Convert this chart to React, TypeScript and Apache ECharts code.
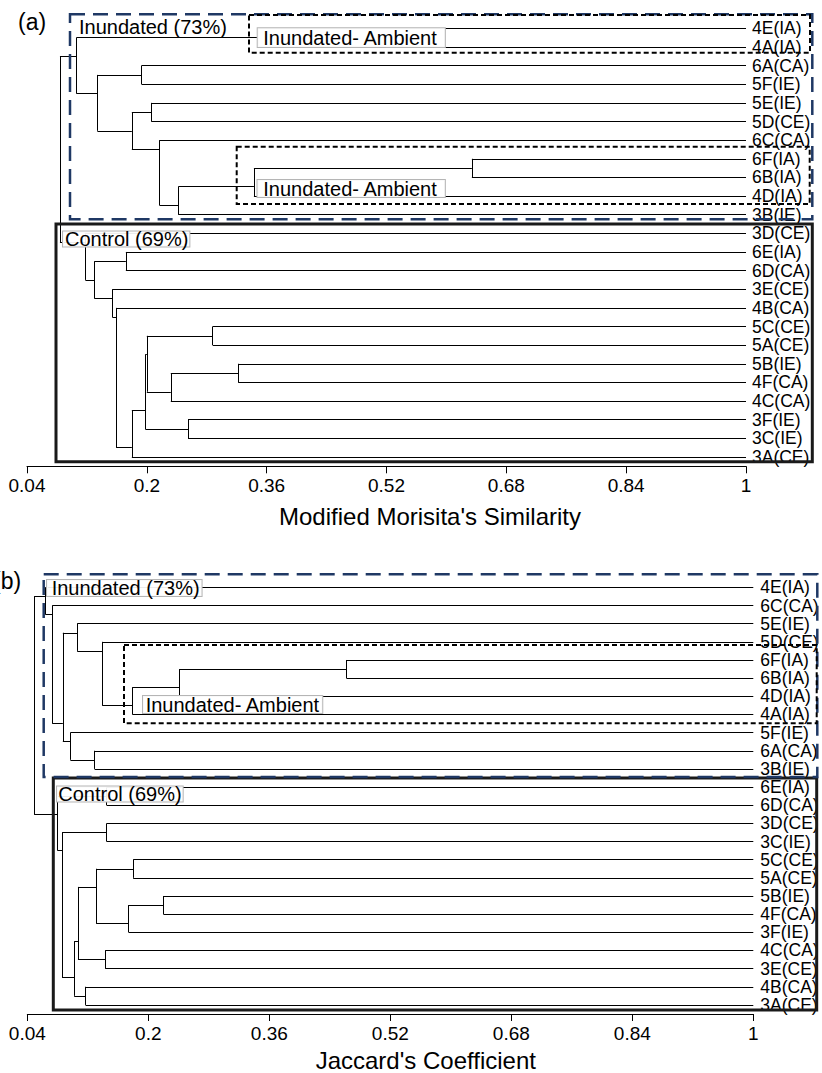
import React, { useEffect, useRef } from 'react';
import * as echarts from 'echarts';

// ---------- data ----------
const leavesA = ['4E(IA)', '4A(IA)', '6A(CA)', '5F(IE)', '5E(IE)', '5D(CE)', '6C(CA)', '6F(IA)', '6B(IA)', '4D(IA)', '3B(IE)', '3D(CE)', '6E(IA)', '6D(CA)', '3E(CE)', '4B(CA)', '5C(CE)', '5A(CE)', '5B(IE)', '4F(CA)', '4C(CA)', '3F(IE)', '3C(IE)', '3A(CE)'];

// [node id, upper child, lower child, similarity at which they join]
const mergesA: [string, string, string, number][] = [
  ['a1', '4E(IA)', '4A(IA)', 0.348],
  ['a2', '6F(IA)', '6B(IA)', 0.634],
  ['a3', 'a2', '4D(IA)', 0.343],
  ['a4', 'a3', '3B(IE)', 0.242],
  ['a5', '6C(CA)', 'a4', 0.217],
  ['a6', '5E(IE)', '5D(CE)', 0.206],
  ['a7', 'a6', 'a5', 0.18],
  ['a8', '6A(CA)', '5F(IE)', 0.193],
  ['a9', 'a8', 'a7', 0.134],
  ['a10', 'a1', 'a9', 0.106],
  ['c1', '6E(IA)', '6D(CA)', 0.172],
  ['c2', '5C(CE)', '5A(CE)', 0.288],
  ['c3', '5B(IE)', '4F(CA)', 0.322],
  ['c4', 'c3', '4C(CA)', 0.232],
  ['c5', 'c2', 'c4', 0.2],
  ['c6', '3F(IE)', '3C(IE)', 0.255],
  ['c7', 'c5', 'c6', 0.198],
  ['c8', 'c7', '3A(CE)', 0.18],
  ['c9', '4B(CA)', 'c8', 0.159],
  ['c10', '3E(CE)', 'c9', 0.154],
  ['c11', 'c1', 'c10', 0.13],
  ['c12', '3D(CE)', 'c11', 0.118],
  ['rootA', 'a10', 'c12', 0.084],
];

const leavesB = ['4E(IA)', '6C(CA)', '5E(IE)', '5D(CE)', '6F(IA)', '6B(IA)', '4D(IA)', '4A(IA)', '5F(IE)', '6A(CA)', '3B(IE)', '6E(IA)', '6D(CA)', '3D(CE)', '3C(IE)', '5C(CE)', '5A(CE)', '5B(IE)', '4F(CA)', '3F(IE)', '4C(CA)', '3E(CE)', '4B(CA)', '3A(CE)'];

const mergesB: [string, string, string, number][] = [
  ['b1', '6F(IA)', '6B(IA)', 0.462],
  ['b2', 'b1', '4D(IA)', 0.241],
  ['b3', 'b2', '4A(IA)', 0.179],
  ['b4', '5D(CE)', 'b3', 0.139],
  ['b5', '5E(IE)', 'b4', 0.106],
  ['b6', '6A(CA)', '3B(IE)', 0.129],
  ['b7', '5F(IE)', 'b6', 0.097],
  ['b8', 'b5', 'b7', 0.087],
  ['b9', '6C(CA)', 'b8', 0.073],
  ['b10', '4E(IA)', 'b9', 0.064],
  ['d1', '6E(IA)', '6D(CA)', 0.145],
  ['d2', '3D(CE)', '3C(IE)', 0.145],
  ['d3', '5C(CE)', '5A(CE)', 0.18],
  ['d4', '5B(IE)', '4F(CA)', 0.22],
  ['d5', 'd4', '3F(IE)', 0.174],
  ['d6', 'd3', 'd5', 0.131],
  ['d7', '4C(CA)', '3E(CE)', 0.143],
  ['d8', 'd6', 'd7', 0.107],
  ['d9', '4B(CA)', '3A(CE)', 0.117],
  ['d10', 'd8', 'd9', 0.102],
  ['d11', 'd2', 'd10', 0.086],
  ['d12', 'd1', 'd11', 0.08],
  ['rootB', 'b10', 'd12', 0.049],
];

const tickValues = [0.04, 0.2, 0.36, 0.52, 0.68, 0.84, 1];
const tickLabels = ['0.04', '0.2', '0.36', '0.52', '0.68', '0.84', '1'];
const axisTitleA = "Modified Morisita's Similarity";
const axisTitleB = "Jaccard's Coefficient";

// ---------- helpers ----------
const FONT = "'Liberation Sans', Arial, Helvetica, sans-serif";

function buildSegments(leaves: string[], merges: [string, string, string, number][]) {
  const info: Record<string, { x: number; y: number; last: number }> = {};
  leaves.forEach((name, i) => {
    info[name] = { x: 1, y: i, last: i };
  });
  const segs: number[][][] = [];
  for (const [id, a, b, sim] of merges) {
    const A = info[a];
    const B = info[b];
    segs.push([[sim, A.y], [sim, B.y]]);
    segs.push([[sim, A.y], [A.x, A.y]]);
    segs.push([[sim, B.y], [B.x, B.y]]);
    info[id] = { x: sim, y: A.last + 0.5, last: B.last };
  }
  return segs;
}

function xAxisFor(gridIndex: number, name: string, shift: number, gap: number) {
  return {
    type: 'value',
    gridIndex,
    min: 0.04,
    max: 1,
    position: 'bottom',
    splitLine: { show: false },
    axisLine: { show: true, onZero: false, lineStyle: { color: '#000', width: 1 } },
    axisTick: { show: true, length: 7, customValues: tickValues, lineStyle: { color: '#000', width: 1 } },
    axisLabel: {
      customValues: tickValues,
      formatter: (v: number) => {
        const i = tickValues.findIndex((t) => Math.abs(t - v) < 1e-9);
        return i >= 0 ? tickLabels[i] : '';
      },
      color: '#000',
      fontSize: 19,
      fontFamily: FONT,
      margin: 10,
    },
    name,
    nameLocation: 'middle',
    nameGap: gap,
    nameTextStyle: { color: '#000', fontSize: 24, fontFamily: FONT, padding: [0, 0, 0, shift] },
  };
}

function yAxisFor(gridIndex: number, leaves: string[], margin: number) {
  return {
    type: 'value',
    gridIndex,
    min: -0.5,
    max: 23.5,
    inverse: true,
    position: 'right',
    splitLine: { show: false },
    axisLine: { show: false, onZero: false },
    axisTick: { show: false },
    axisLabel: {
      customValues: leaves.map((_, i) => i),
      formatter: (v: number) => leaves[Math.round(v)] ?? '',
      color: '#000',
      fontSize: 17.5,
      fontFamily: FONT,
      margin,
    },
  };
}

function textEl(text: string, x: number, y: number, size: number, boxed?: { pad: number[]; lh: number }) {
  const style: any = {
    text,
    x,
    y,
    fill: '#000',
    fontSize: size,
    fontFamily: FONT,
    align: 'left',
    verticalAlign: 'middle',
  };
  if (boxed) {
    style.backgroundColor = 'rgba(255,255,255,0.92)';
    style.borderColor = '#b5b5b5';
    style.borderWidth = 1;
    style.padding = boxed.pad;
    style.lineHeight = boxed.lh;
  }
  return { type: 'text', z: 100, style };
}

function rectEl(x: number, y: number, w: number, h: number, stroke: string, lineWidth: number, dash: number[] | null, z: number) {
  return {
    type: 'rect',
    z,
    shape: { x, y, width: w, height: h },
    style: { fill: 'none', stroke, lineWidth, lineDash: dash || undefined },
  };
}

const NAVY = '#1f3864';

export default function App() {
  const ref = useRef<HTMLDivElement>(null);

  useEffect(() => {
    document.body.style.margin = '0';
    if (!ref.current) return;
    const chart = echarts.init(ref.current, null, { renderer: 'svg' });
    const segA = buildSegments(leavesA, mergesA);
    const segB = buildSegments(leavesB, mergesB);

    const option: any = {
      animation: false,
      backgroundColor: '#fff',
      grid: [
        { left: 27, right: 76, top: 19, height: 447.3, containLabel: false },
        { left: 27.3, right: 68.7, top: 578.3, height: 436.6, containLabel: false },
      ],
      xAxis: [xAxisFor(0, axisTitleA, 87, 38), xAxisFor(1, axisTitleB, 71, 34)],
      yAxis: [yAxisFor(0, leavesA, 6), yAxisFor(1, leavesB, 7)],
      series: [
        {
          type: 'lines',
          coordinateSystem: 'cartesian2d',
          xAxisIndex: 0,
          yAxisIndex: 0,
          silent: true,
          polyline: false,
          lineStyle: { color: '#000', width: 1, opacity: 1 },
          data: segA.map((c) => ({ coords: c })),
        },
        {
          type: 'lines',
          coordinateSystem: 'cartesian2d',
          xAxisIndex: 1,
          yAxisIndex: 1,
          silent: true,
          polyline: false,
          lineStyle: { color: '#000', width: 1, opacity: 1 },
          data: segB.map((c) => ({ coords: c })),
        },
      ],
      graphic: [
        // panel (a)
        rectEl(56, 224, 756.3, 237.7, '#1a1a1a', 3, null, 90),
        rectEl(70, 14.3, 742.3, 205, NAVY, 2.5, [15, 8], 91),
        rectEl(249, 15, 561, 37.7, '#000', 2, [5, 3], 92),
        rectEl(236.7, 146.7, 573, 57.3, '#000', 2, [5, 3], 92),
        textEl('(a)', 18, 22, 23),
        textEl('Inundated (73%)', 79, 26.7, 20),
        textEl('Inundated- Ambient', 257.7, 37.6, 20, { pad: [0, 7, 0, 5.6], lh: 18.6 }),
        textEl('Inundated- Ambient', 257.5, 188.5, 20, { pad: [0, 7, 0, 5.8], lh: 17 }),
        textEl('Control (69%)', 63, 239, 20, { pad: [0, 1, 0, 2], lh: 15 }),
        // panel (b)
        rectEl(53.3, 778, 763.4, 232, '#1a1a1a', 3, null, 90),
        rectEl(43.7, 574.3, 773.6, 202.7, NAVY, 2.5, [15, 8], 91),
        rectEl(124, 645, 692.7, 78.3, '#000', 2, [5, 3], 92),
        textEl('(b)', -7, 581, 23),
        textEl('Inundated (73%)', 47, 588, 20, { pad: [0, 2, 0, 4.7], lh: 16 }),
        textEl('Inundated- Ambient', 143, 704.5, 20, { pad: [0, 2, 0, 2.7], lh: 17 }),
        textEl('Control (69%)', 57, 794, 20, { pad: [0, 1, 0, 1.3], lh: 15 }),
      ],
    };
    chart.setOption(option);
    return () => chart.dispose();
  }, []);

  return <div ref={ref} style={{ width: 822, height: 1073 }} />;
}
